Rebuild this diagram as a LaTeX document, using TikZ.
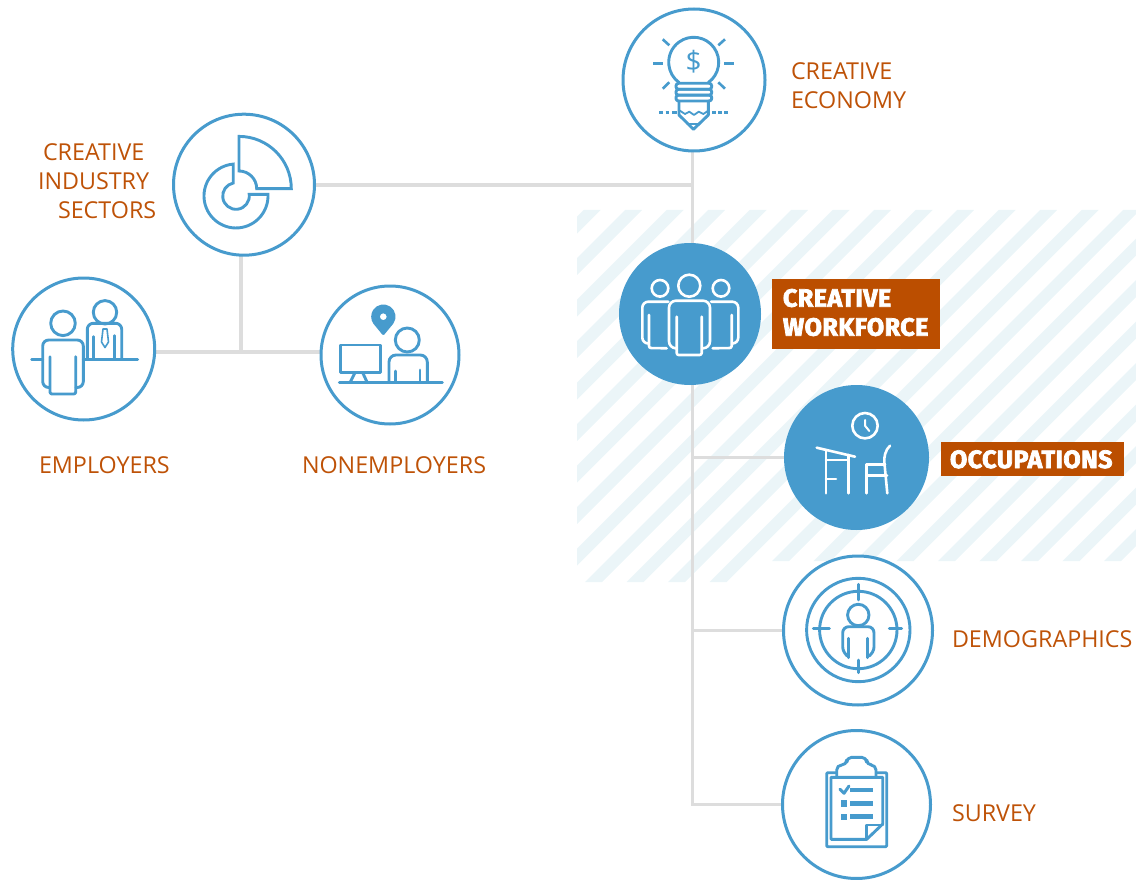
\documentclass[tikz,border=0pt]{standalone}
\usepackage{fontspec}
\usetikzlibrary{backgrounds}
\setmainfont{Open Sans}
\newfontfamily\heavyfont{Fira Sans}[BoldFont={Fira Sans Bold},BoldFeatures={FakeBold=3,LetterSpace=2}]
\definecolor{iconblue}{HTML}{479BCD}
\definecolor{labelorange}{HTML}{BE5207}
\definecolor{boxorange}{HTML}{BB4E00}
\definecolor{connector}{HTML}{DDDDDD}
\definecolor{stripe}{HTML}{EBF5F8}
\tikzset{
  ringnode/.style={circle,draw=iconblue,line width=3pt,fill=white,inner sep=0pt,outer sep=0pt},
  solidnode/.style={circle,fill=iconblue,inner sep=0pt,outer sep=0pt},
  conn/.style={draw=connector,line width=3.7pt},
  ic/.style={draw=iconblue,line width=2.9pt,line cap=round,line join=round},
  icw/.style={draw=white,line width=2.6pt,line cap=round,line join=round},
  lab/.style={anchor=base west,inner sep=0pt,outer sep=0pt,text=labelorange,font=\fontsize{23.3}{29.2}\selectfont},
  tagtext/.style={anchor=base west,inner sep=0pt,outer sep=0pt,text=white,font=\heavyfont\bfseries\fontsize{25}{29}\selectfont}
}
\begin{document}
\begin{tikzpicture}[x=1pt,y=-1pt]
\useasboundingbox (0,0) rectangle (1136,880);
% nodes
\node[ringnode,minimum size=142pt] (economy) at (694,80) {};
\node[ringnode,minimum size=141pt] (sectors) at (244,184.7) {};
\node[ringnode,minimum size=142pt] (employers) at (83.7,349) {};
\node[ringnode,minimum size=138pt] (nonemployers) at (390,355) {};
\node[solidnode,minimum size=142pt] (workforce) at (690,314) {};
\node[solidnode,minimum size=145pt] (occupations) at (856.5,457.5) {};
\node[ringnode,minimum size=149pt] (demographics) at (858,630.5) {};
\node[ringnode,minimum size=148pt] (survey) at (856.5,804.5) {};
\coordinate (trunk) at (692.5,151);
\coordinate (bar) at (241,352);
\begin{scope}[on background layer]
% hatch
\begin{scope}
\clip (577,210) -- (1136,210) -- (1136,561) -- (750,561) -- (750,582) -- (577,582) -- cycle;
\foreach \k in {-6,...,20}{
  \pgfmathsetmacro{\a}{835+41.5*\k}
  \pgfmathsetmacro{\b}{852+41.5*\k}
  \fill[stripe] (\a-210,210) -- (\b-210,210) -- (\b-582,582) -- (\a-582,582) -- cycle;
}
\end{scope}
% connectors
\draw[conn] (trunk) |- (survey.center);
\draw[conn] (sectors.center) -- (sectors.center -| trunk);
\draw[conn] (occupations.center) -- (occupations.center -| trunk);
\draw[conn] (demographics.center) -- (demographics.center -| trunk);
\draw[conn] (sectors.center -| bar) -- (bar);
\draw[conn] (employers.center |- bar) -- (nonemployers.center |- bar);
\end{scope}
% economy icon
\draw[ic] (708.4,82.5) arc[start angle=-54,end angle=234,radius=25pt];
\foreach \yy in {83.3,89.3,95}{\draw[ic,rounded corners=2.5pt] (676,\yy) rectangle (711.7,\yy+6);}
\draw[ic] (679,101) -- (679,115) -- (693.5,129.3) -- (708.3,115) -- (708.3,101);
\draw[ic,line width=1.8pt] (680,110.7) -- (685,114) -- (689.3,111.7) -- (694,115) -- (698.7,111.7) -- (703.3,114) -- (708.3,110.7);
\draw[ic,line width=2pt] (687.3,124) -- (699.3,124);
\node[text=iconblue,inner sep=0pt,font=\fontsize{28}{28}\selectfont] (dollar) at (693.7,62) {\$};
\foreach \xa/\xb in {653/662.7,724/734}{\draw[iconblue,line width=3.5pt] (\xa,63.7) -- (\xb,63.7);}
\foreach \xa/\ya/\xb/\yb in {662.7/39.3/669.3/45.3,725/39.3/718.3/45.3,662.7/88.7/669.3/82.3,725/88.7/718.3/82.3}{\draw[iconblue,line width=2.6pt] (\xa,\ya) -- (\xb,\yb);}
\foreach \xa/\xb in {659/663.3,665.7/669,672.3/676.7,712.3/715.7,718.3/721.7,724/728}{\draw[iconblue,line width=3.5pt] (\xa,112.7) -- (\xb,112.7);}
% sectors icon
\draw[ic,line cap=butt,line join=miter] (239,136.4) arc[start angle=90,end angle=0,radius=52.3pt] -- (256.7,188.7) arc[start angle=0,end angle=90,radius=17.7pt] -- cycle;
\draw[ic,line cap=butt,line join=miter] (233.2,164.1) arc[start angle=95,end angle=363,radius=32pt] -- (249.2,194.4) arc[start angle=7,end angle=-258,radius=13.3pt] -- cycle;
% employers icon
\draw[ic] (63,323.3) circle[radius=12.3pt];
\draw[ic,rounded corners=6pt] (49,387.5) -- (42.7,387.5) -- (42.7,340) -- (83.3,340) -- (83.3,387.5) -- (76,387.5);
\draw[ic,rounded corners=2pt] (50,356.7) -- (50,394) -- (75.7,394) -- (75.7,356.7);
\draw[ic] (31.7,359.3) -- (42.7,359.3);
\draw[ic] (83.3,359.3) -- (137.7,359.3);
\draw[ic] (105,312.3) circle[radius=11.7pt];
\draw[ic,rounded corners=6pt] (87.3,359) -- (87.3,323.3) -- (121.7,323.3) -- (121.7,359);
\draw[ic] (93.3,336.7) -- (93.3,358);
\draw[ic] (114.3,335.7) -- (114.3,358);
\draw[ic,line width=1.6pt] (103,329) -- (107,329) -- (108.5,342) -- (105,347.5) -- (101.5,342) -- cycle;
% nonemployers icon
\draw[ic,fill=iconblue,even odd rule] (392.1,322.8) arc[start angle=-35,end angle=215,radius=10.7pt] -- (383.3,333.5) -- cycle (383.3,316.7) circle[radius=5pt];
\draw[ic] (340.7,345) rectangle (380.7,372.7);
\draw[ic] (355,372.7) -- (350,382.7);
\draw[ic] (362.7,372.7) -- (367.3,382.7);
\draw[ic] (339.3,382.7) -- (442.3,382.7);
\draw[ic] (407.3,340) circle[radius=12pt];
\draw[ic,rounded corners=7pt] (389,382) -- (389,355) -- (427.3,355) -- (427.3,382);
\draw[ic] (395.7,371) -- (395.7,382);
\draw[ic] (420,370) -- (420,382);
% workforce icon
\draw[icw] (689.3,285.7) circle[radius=11pt];
\draw[icw,rounded corners=7pt] (675,348.3) -- (669,348.3) -- (669,300.7) -- (710,300.7) -- (710,348.3) -- (703,348.3);
\draw[icw,rounded corners=2pt] (676.7,316.7) -- (676.7,355) -- (701.7,355) -- (701.7,316.7);
\draw[icw] (660,288.3) circle[radius=8.3pt];
\draw[icw,rounded corners=6pt] (668.3,301.7) -- (642.3,301.7) -- (642.3,343.5) -- (648,343.5);
\draw[icw,rounded corners=2pt] (649,315) -- (649,348) -- (666.7,348.3);
\draw[icw] (721,288.3) circle[radius=8.3pt];
\draw[icw,rounded corners=6pt] (711,301.7) -- (738.3,301.7) -- (738.3,343.5) -- (733,343.5);
\draw[icw,rounded corners=2pt] (731.7,315) -- (731.7,348) -- (712.7,348.3);
% occupations icon
\draw[icw] (865,425.7) circle[radius=12.7pt];
\draw[icw,line width=2pt] (865,420) -- (865,425.7) -- (869.3,431);
\draw[icw] (816.7,447.7) -- (855,456.7);
\draw[icw] (826,451) -- (826,493.3);
\draw[icw] (848.3,455) -- (848.3,493.3);
\draw[icw] (826,460) -- (848.3,460);
\draw[icw] (826,479) -- (836,479);
\draw[icw] (890,445.7) .. controls (885,450) and (884,458) .. (884.3,461.7) -- (887.3,493.3);
\draw[icw] (866.7,464.3) -- (885,464.3);
\draw[icw] (866.7,464.3) -- (866.7,493.3);
\draw[icw] (866.7,475.7) -- (887,475.7);
% demographics icon
\draw[ic] (858.3,630) circle[radius=51.7pt];
\draw[ic] (858.3,630) circle[radius=38.7pt];
\draw[ic] (858.3,584.3) -- (858.3,600);
\draw[ic] (858.3,660) -- (858.3,672.7);
\draw[ic] (813.3,628.3) -- (829.3,628.3);
\draw[ic] (889.3,628.3) -- (901.7,628.3);
\draw[ic] (858.3,615) circle[radius=10.7pt];
\draw[ic,rounded corners=6pt] (846,655) -- (842.7,653) -- (842.7,626.7) -- (874,626.7) -- (874,653) -- (870.5,655);
\draw[ic] (848.3,638.3) -- (848.3,657.7);
\draw[ic] (867.3,638.3) -- (867.3,657.7);
% survey icon
\draw[ic,rounded corners=1pt] (826.7,772.7) rectangle (886.7,846.7);
\draw[ic,fill=white,rounded corners=5pt] (836.7,777.3) -- (836.7,765) -- (846.7,765) -- (846.7,757.3) -- (866.7,757.3) -- (866.7,765) -- (876,765) -- (876,777.3);
\draw[ic] (831,777.3) -- (882.7,777.3) -- (882.7,824) -- (866.7,839.3) -- (831,839.3) -- cycle;
\draw[ic] (866.7,839.3) -- (866.7,825) -- (882.7,825);
\draw[ic,line width=3pt] (840,789.3) -- (844,793.3) -- (849,786);
\foreach \yy in {790,803.3,816.7}{\draw[iconblue,line width=4.5pt] (850,\yy) -- (872.7,\yy);}
\foreach \yy in {803.3,816.7}{\fill[iconblue] (841,\yy-3.2) rectangle (847.3,\yy+3.2);}
% labels
\node[lab,align=left] (economytext) at (791,108.7) {CREATIVE\\ECONOMY};
\node[lab,align=left] (sectorstext) at (38,218.7) {\hspace*{5pt}CREATIVE\\INDUSTRY\\\hspace*{20pt}SECTORS};
\node[lab] (employerstext) at (39,473.7) {EMPLOYERS};
\node[lab] (nonemployerstext) at (302,473.7) {NONEMPLOYERS};
\node[lab] (demographicstext) at (952,647.7) {DEMOGRAPHICS};
\node[lab] (surveytext) at (952,821.7) {SURVEY};
% tags
\fill[boxorange] (772,279) rectangle (940,348.7);
\fill[boxorange] (941,442.3) rectangle (1124,475.7);
\node[tagtext,align=left] (workforcetext) at (783,335.7) {CREATIVE\\WORKFORCE};
\node[tagtext] (occupationstext) at (950,468) {OCCUPATIONS};
\end{tikzpicture}
\end{document}
